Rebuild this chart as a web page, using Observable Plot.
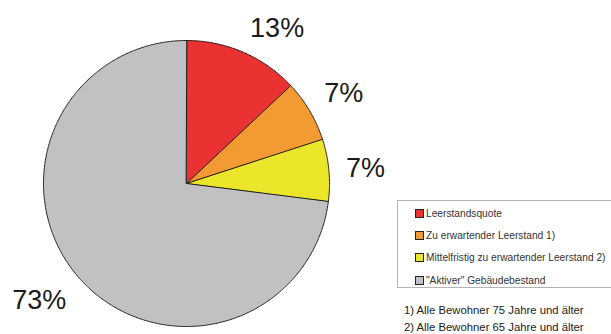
<!DOCTYPE html>
<html>
<head>
<meta charset="utf-8">
<script src="https://cdn.jsdelivr.net/npm/d3@7"></script>
<script src="https://cdn.jsdelivr.net/npm/@observablehq/plot@0.6"></script>
<style>
  html, body { margin: 0; padding: 0; background: #fff; overflow: hidden; }
  #wrap { position: relative; width: 611px; height: 334px; font-family: "Liberation Sans", Arial, sans-serif; }
  #legend { position: absolute; left: 397px; top: 200px; width: 230px; height: 88px; border: 1px solid #b4b4b4; box-sizing: border-box; }
  .item { position: absolute; left: 17px; font-size: 10.2px; color: #333; white-space: nowrap; line-height: 12px; }
  .sw { display: inline-block; width: 7px; height: 7px; border: 1px solid #222; margin-right: 2px; vertical-align: -1px; }
  #notes { position: absolute; left: 404px; top: 302px; font-size: 11.3px; color: #222; line-height: 16.5px; white-space: nowrap; }
</style>
</head>
<body>
<div id="wrap"></div>
<script>
const categories = ["Leerstandsquote", "Zu erwartender Leerstand 1)", "Mittelfristig zu erwartender Leerstand 2)", "\"Aktiver\" Gebäudebestand"];
const values = [13, 7, 7, 73];
const labels = ["13%", "7%", "7%", "73%"];
const colors = ["#ea3232", "#f49a32", "#ece62b", "#c1c1c3"];
const notes = ["1) Alle Bewohner 75 Jahre und älter", "2) Alle Bewohner 65 Jahre und älter"];

const arcs = d3.pie().sort(null)(values);
const pts = [];
arcs.forEach((a, i) => {
  pts.push({cat: categories[i], x: 0, y: 0});
  const n = Math.max(4, Math.ceil((a.endAngle - a.startAngle) / 0.01));
  for (let k = 0; k <= n; k++) {
    const t = a.startAngle + (a.endAngle - a.startAngle) * k / n;
    pts.push({cat: categories[i], x: Math.sin(t), y: Math.cos(t)});
  }
});
const lab = arcs.map((a, i) => {
  const m = (a.startAngle + a.endAngle) / 2;
  const s = Math.sin(m), c = Math.cos(m);
  return {
    text: labels[i], x: 1.12 * s, y: 1.12 * c,
    anchor: s >= 0 ? "start" : "end",
    line: c > 0.3 ? "bottom" : c < -0.3 ? "top" : "middle"
  };
});

const textMarks = ["start", "end"].flatMap(an => ["bottom", "top", "middle"].map(ln =>
  Plot.text(lab.filter(d => d.anchor === an && d.line === ln), {
    x: "x", y: "y", text: "text", textAnchor: an, lineAnchor: ln,
    fontSize: 27, fill: "#1a1a1a", fontFamily: "Liberation Sans, Arial, sans-serif"
  })));

const chart = Plot.plot({
  width: 611, height: 334,
  margin: 0,
  x: {domain: [-1, 1], range: [43, 329], axis: null},
  y: {domain: [-1, 1], range: [326, 40], axis: null},
  color: {domain: categories, range: colors},
  marks: [
    Plot.line(pts, {x: "x", y: "y", z: "cat", fill: "cat", stroke: "#111", strokeWidth: 0.9, curve: "linear-closed"}),
    ...textMarks
  ]
});
chart.style.position = "absolute";
chart.style.left = "0px";
chart.style.top = "0px";
const wrap = document.getElementById("wrap");
wrap.appendChild(chart);

const legend = document.createElement("div");
legend.id = "legend";
categories.forEach((c, i) => {
  const it = document.createElement("div");
  it.className = "item";
  it.style.top = (7 + i * 22.2) + "px";
  const sw = document.createElement("span");
  sw.className = "sw";
  sw.style.background = colors[i];
  it.appendChild(sw);
  it.appendChild(document.createTextNode(c));
  legend.appendChild(it);
});
wrap.appendChild(legend);

const nt = document.createElement("div");
nt.id = "notes";
nt.innerHTML = notes.map(n => `<div>${n}</div>`).join("");
wrap.appendChild(nt);
</script>
</body>
</html>
